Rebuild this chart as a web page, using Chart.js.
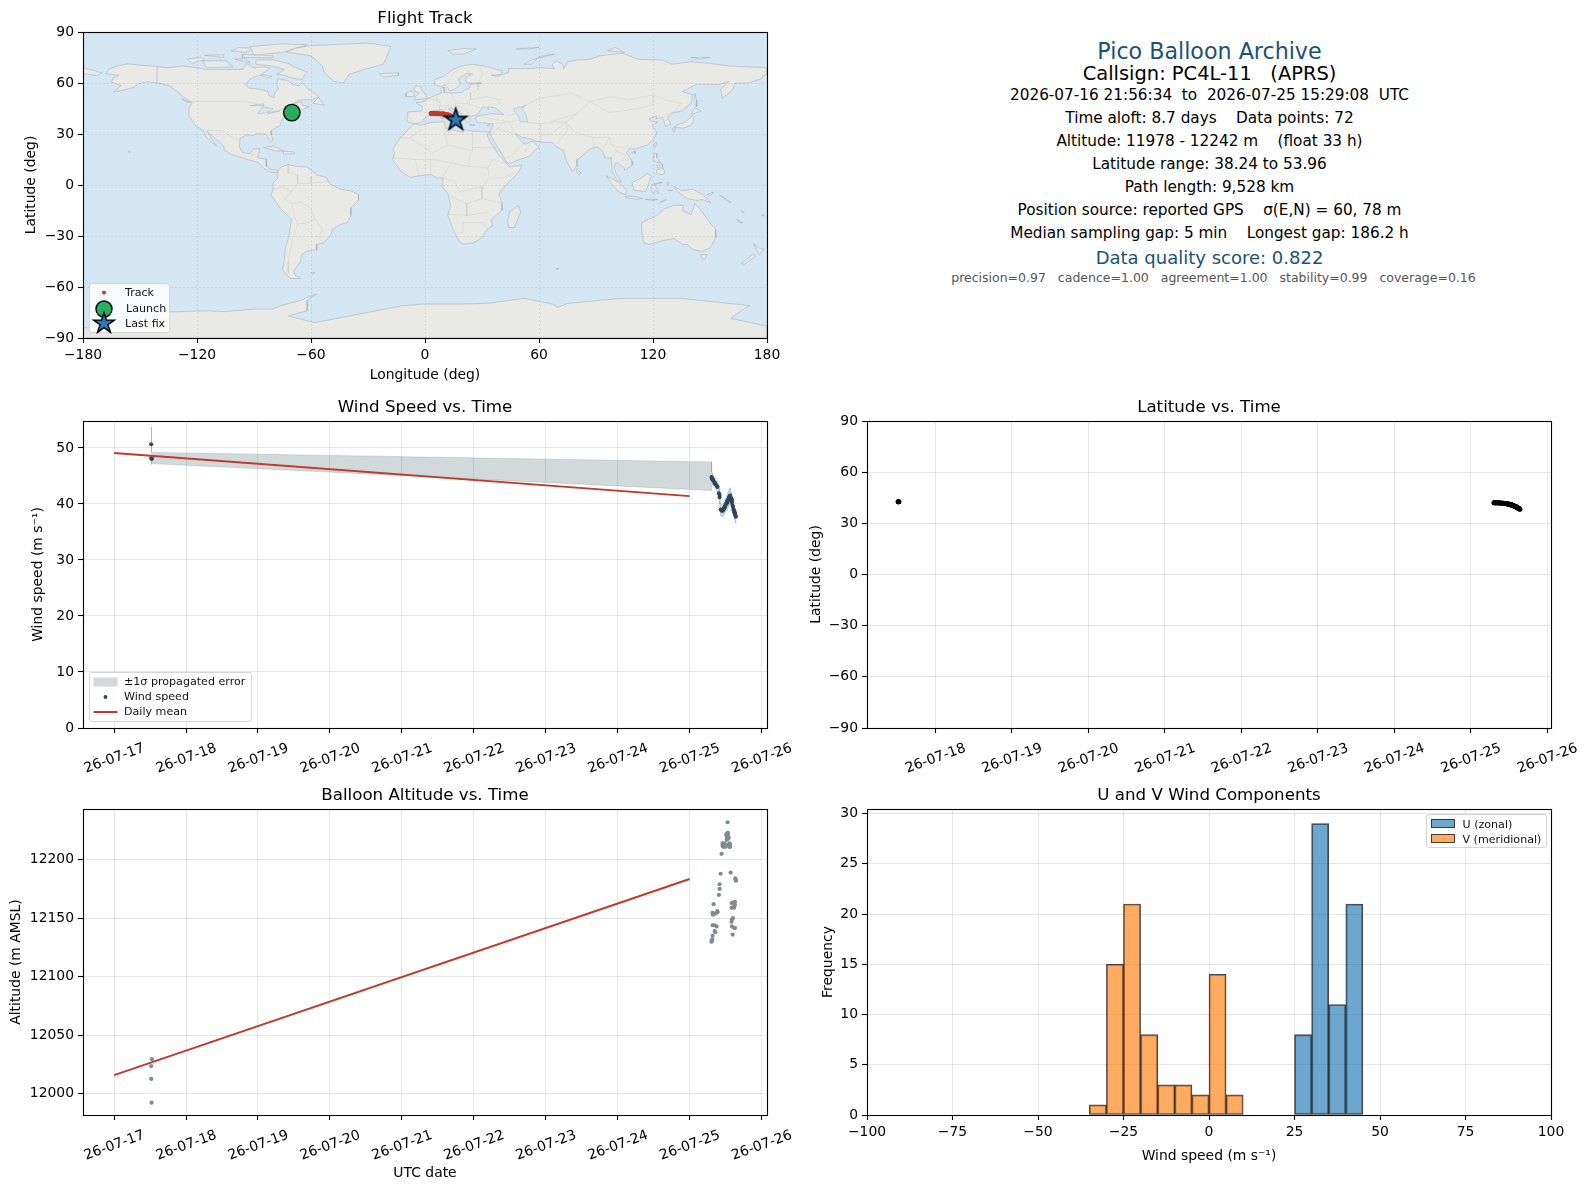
<!DOCTYPE html>
<html><head><meta charset="utf-8">
<script src="https://cdn.jsdelivr.net/npm/chart.js@4/dist/chart.umd.js"></script>
<style>
html,body{margin:0;padding:0;background:#fff;width:1589px;height:1189px;overflow:hidden;font-family:"DejaVu Sans",sans-serif}
canvas{position:absolute}
.t{position:absolute;left:1209.5px;transform:translate(-50%,-50%);white-space:pre;color:#000;font-size:15.28px;line-height:1}
.leg{position:absolute;background:rgba(255,255,255,.82);border:1px solid #d5d5d5;border-radius:3px;box-sizing:border-box}
.leg span{position:absolute;font-size:11.1px;line-height:1;transform:translateY(-50%);white-space:pre;color:#111}
.leg svg{position:absolute;left:0;top:0;overflow:visible}
</style></head><body>
<canvas id="cMap"></canvas><canvas id="cWind"></canvas><canvas id="cLat"></canvas><canvas id="cAlt"></canvas><canvas id="cHist"></canvas>
<div id="overlay"></div>
<script>
/* ---------- flight series (day of July 2026) ---------- */
const times=[17.516,17.516,17.521,17.526,
25.306,25.306,25.315,25.320,25.320,25.320,25.325,25.334,25.348,25.348,
25.357,25.357,25.375,25.385,25.389,25.408,25.417,25.417,25.431,25.445,
25.459,25.459,25.463,25.467,25.470,25.473,25.478,25.482,25.487,25.491,
25.496,25.510,25.514,25.517,25.519,25.519,25.524,25.528,25.528,25.531,
25.533,25.537,25.542,25.546,25.551,25.551,25.556,25.561,25.561,25.565,
25.570,25.584,25.584,25.584,25.588,25.588,25.598,25.602,25.612,25.612,
25.621,25.626,25.626,25.630,25.630,25.635,25.639,25.644];
const altitude=[12012.7,12023.7,11992.4,12029.7,
12130,12130.5,12132,12135,12144,12154.5,12153,12162,12139,12144,
12138,12154,12143,12156,12155,12170,12175,12179,12188,12205,
12212,12214,12213,12211,12212,12213.6,12212,12213,12214,12212,
12211,12221,12222,12217,12218,12219.5,12220,12221,12232,12223,
12222.4,12218,12219,12213,12212,12211,12214,12213,12212,12211,
12189,12147,12159,12163,12149,12143,12136,12150,12142,12163.5,
12159,12161,12162,12164,12141.6,12184,12183,12182];
const windSpeed=[50.65,48.2,48.0,48.1,
44.8,44.7,44.5,44.4,44.4,44.3,44.3,44.1,43.8,43.8,
43.6,43.6,43.3,43.1,43.0,41.9,41.6,41.2,39.0,38.8,
38.8,38.9,38.9,39.0,39.0,39.1,39.2,39.3,39.4,39.5,
39.7,40.0,40.1,40.2,40.3,40.2,40.4,40.5,40.6,40.6,
40.7,40.8,40.9,41.0,41.2,41.1,41.3,41.5,41.4,41.4,
41.2,40.9,40.8,40.6,40.4,40.3,39.7,39.5,38.9,39.0,
38.6,38.4,38.5,38.3,38.2,38.0,37.9,37.7];
const windUpper=[53.7,49.6,49.2,49.2,
47.5,45.7,45.5,45.3,45.3,45.2,45.2,45.0,44.7,44.7,
44.5,44.5,44.2,44.0,43.9,42.9,42.6,42.2,40.1,39.9,
39.9,40.0,40.0,40.1,40.1,40.2,40.3,40.4,40.6,40.7,
40.9,41.2,41.3,41.4,41.5,41.4,41.7,41.8,41.9,41.9,
42.0,42.2,42.3,42.4,42.6,42.5,42.7,42.9,42.8,42.8,
42.5,42.1,42.0,41.8,41.5,41.4,40.8,40.6,40.0,40.1,
39.6,39.4,39.5,39.3,39.2,39.0,38.9,38.8];
const windLower=[47.6,47.0,47.0,47.2,
42.4,43.7,43.5,43.5,43.5,43.4,43.4,43.2,42.9,42.9,
42.7,42.7,42.4,42.2,42.1,40.9,40.5,40.1,37.9,37.7,
37.7,37.8,37.8,37.9,37.9,38.0,38.1,38.2,38.2,38.3,
38.5,38.8,38.9,39.0,39.1,39.0,39.1,39.2,39.3,39.3,
39.4,39.4,39.5,39.6,39.8,39.7,39.9,40.1,40.0,40.0,
39.9,39.7,39.6,39.4,39.3,39.2,38.6,38.4,37.8,37.9,
37.6,37.4,37.5,37.3,37.2,37.0,36.9,36.6];
const latitude=[42.7,42.7,42.7,42.6,
42.1,42.1,42.1,42.1,42.1,42.0,42.0,42.0,42.0,42.0,
42.0,41.9,41.9,41.9,41.9,41.9,41.8,41.8,41.8,41.7,
41.7,41.6,41.6,41.6,41.5,41.5,41.5,41.4,41.4,41.3,
41.3,41.1,41.1,41.0,41.0,41.0,40.9,40.9,40.9,40.8,
40.8,40.7,40.7,40.6,40.5,40.5,40.4,40.3,40.3,40.2,
40.2,39.9,39.9,39.9,39.8,39.8,39.6,39.5,39.2,39.2,
39.0,38.9,38.9,38.7,38.7,38.6,38.4,38.24];
const meanDays=[17,25];
const meanWind=[49.1,41.4];
const meanAlt=[12016,12183.5];
const trackLon=[3.3,4.5,5.8,7,8.2,9.4,10.5,11.5,12.4,13.2,14,14.8,15.4,16];
const trackLat=[42.1,42.1,42,42,41.9,41.8,41.6,41.4,41.1,40.8,40.3,39.8,39,38.24];
const launchPos=[-70.1,42.6];
const lastPos=[16.2,38.24];
/* ---------- histogram ---------- */
const uBins=[27.5,32.5,37.5,42.5];
const uCounts=[8,29,11,21];
const vBins=[-32.5,-27.5,-22.5,-17.5,-12.5,-7.5,-2.5,2.5,7.5];
const vCounts=[1,15,21,8,3,3,2,14,2];
/* ---------- ticks ---------- */
const lonTicks=[-180,-120,-60,0,60,120,180];
const latTicks=[-90,-60,-30,0,30,60,90];
const windTicks=[0,10,20,30,40,50];
const altTicks=[12000,12050,12100,12150,12200];
const histXTicks=[-100,-75,-50,-25,0,25,50,75,100];
const histYTicks=[0,5,10,15,20,25,30];
const dayTicksLeft=[17,18,19,20,21,22,23,24,25,26];
const dayTicksRight=[18,19,20,21,22,23,24,25,26];
/* ---------- coastlines, lon/lat ---------- */
const northAmerica=[[-168,65.5],[-166,68.3],[-162,70],[-156.5,71.3],[-150,70.5],[-141,69.7],[-135,69],[-128,70],[-124,69.5],[-115,68],[-108,68],[-100,68],[-96,68],[-94,71.5],[-90,69],[-85,69.5],[-81.5,69],[-85,66],[-87,64.5],[-92,62.5],[-94.5,59],[-92.5,57],[-88,56.5],[-82.5,55],[-82,52.5],[-79.5,51.3],[-79,54.5],[-77,56.5],[-78,58.8],[-77.5,62.4],[-72,61.5],[-69.5,59],[-66,58.5],[-64.5,60.3],[-61.5,56.5],[-57,53],[-56,51.5],[-60,50.2],[-66,50],[-70,47.5],[-65,49],[-64.5,47],[-61,46],[-64,44.5],[-66,44],[-67,45],[-70,43.5],[-70.5,41.7],[-74,40.5],[-75.5,38],[-76,35],[-78,34],[-81,32],[-81,29.5],[-80,26.5],[-81,25.2],[-82.7,28],[-84,30],[-89,30.2],[-90.5,29],[-94,29.5],[-97.3,27.5],[-97.7,22.5],[-96,19],[-92,18.5],[-90.5,21],[-87,21.5],[-88,16],[-83.5,15],[-83.5,11],[-81,9],[-77.5,8.7],[-78,7.3],[-81,7.5],[-85,10],[-87.5,13],[-92,14.5],[-96,16],[-102,18],[-105.5,20.5],[-106,23],[-109,26],[-112.5,29.5],[-114.7,31.7],[-112.5,27.5],[-109.8,23],[-112,25],[-115,28],[-117,32.5],[-120.5,34.5],[-122.5,37.8],[-124.3,41],[-124,46],[-122.5,48.5],[-125,50],[-128,52.5],[-130.5,55],[-134,58],[-139,59.7],[-146,60.7],[-151,59.5],[-153,57.5],[-158,56],[-164,54.7],[-160,58.5],[-165,60.5],[-164,63.2],[-161,64.5],[-168,65.5]];
const southAmerica=[[-77.5,8.7],[-75.5,10.7],[-72,12],[-68,11],[-62,10.5],[-57,6],[-52,4.5],[-50,0.5],[-44,-2.5],[-39,-3.5],[-35,-5.5],[-35,-9],[-39,-13.5],[-39,-18],[-41,-22],[-45,-23.5],[-48.5,-26],[-50,-30],[-53.5,-34],[-57,-35],[-57,-38],[-62,-39],[-65,-41],[-65.5,-45],[-69,-50.5],[-68.5,-53],[-65.5,-55],[-71,-55],[-75,-50],[-74,-44],[-73.5,-37],[-71.5,-30],[-70.3,-20],[-76,-14],[-81,-6],[-80,-2.5],[-80,1],[-77.5,4],[-77.5,8.7]];
const africa=[[-6,35.7],[-2,35.2],[3,36.8],[10,37.2],[11,33.5],[15,32.3],[20,31],[20,32.8],[25,31.7],[32,31.2],[34.3,31.3],[32.5,29.9],[34,26],[37,21],[38.5,18],[43,12.5],[44.5,10.5],[51,11.8],[49,7],[44,1.5],[41,-2],[39,-5],[40.5,-11],[40.5,-15],[35,-20],[35.5,-24],[32.8,-26],[30,-31],[25.5,-34],[20,-34.8],[18,-33],[15,-27],[12,-18],[13.5,-12],[12,-5],[9,-1],[9.5,4],[6,4.3],[3,6.3],[-4,5.2],[-8,4.5],[-13,8.5],[-17,14.7],[-16,19],[-17,21],[-13,27.7],[-9.8,31.5],[-6,35.7]];
const eurasia=[[-9,37],[-9.5,39],[-9,43],[-2,43.5],[-1.2,46],[-4.7,48.4],[-1.5,48.7],[2,51],[4,52],[7,53.5],[8.7,54],[8.2,57],[10.5,57.5],[10,54.5],[14,54],[19,54.4],[21,56],[23.5,57],[24,59.3],[30,60],[23,60],[21.3,61],[21.5,63],[25,65.3],[22,65.7],[17.5,62],[18.8,59.8],[16.5,57],[14.2,55.5],[12.8,55.7],[11,59],[8,58],[5.2,59],[5,62],[10,64],[14,67.5],[19,70],[25,71],[31,70],[41,67],[40,65],[35,64.5],[38,64],[44,66.2],[44,68.5],[54,68.5],[61,69],[68,68.5],[67,71],[69,73],[72.5,71],[73,68],[75,72.5],[80.5,73.5],[87,74],[92,76],[104,77.5],[112,74],[125,73.5],[130,71],[140,72.5],[150,71.5],[160,70],[170,69.5],[180,69],[180,65],[178,64.5],[177,62.5],[170,60],[163,59.8],[162,56],[156.5,51],[155.5,56.5],[160,61],[155,59.2],[143,59.3],[135.5,55],[141,53],[140,48],[135,43.5],[130.5,42.5],[127.5,39.8],[129.4,36],[126.5,34.5],[126,37],[125,39.7],[121.5,39],[122,40.7],[118,39],[119,37.3],[122.5,37],[119.5,35],[122,31],[121,28],[117,23.6],[110.5,21.2],[108,21.5],[106,19],[109,14],[109,11.5],[105,8.7],[105,10],[102.5,12],[100.7,13.5],[99.5,11],[100.5,7],[103.5,1.5],[101,3],[98.5,8],[98,16],[94.5,16],[94,19],[91,22.5],[87,21.3],[82,16.5],[80,15],[80,11],[77.5,8],[74.5,14],[72.8,20.5],[69,22.5],[67,25],[61.5,25.2],[57,26],[56.5,27],[51,28],[48,30],[48.5,28.5],[51.5,25],[53,24],[56.3,25.8],[59.8,22.5],[55,17],[45,13],[43.2,13],[39,21],[35,28],[34.7,29.5],[34.3,31.3],[36,36],[31,36.5],[27.5,36.7],[26.5,39.5],[29,41],[35,42],[41.5,41.5],[38,44.5],[37,45.3],[33,46],[33.5,44.5],[30.7,46.5],[28,42],[26,40.7],[23,40.5],[24,38],[22.5,36.5],[19.5,41],[19.5,42],[13.5,45.5],[12.3,44.5],[16,41.7],[18.5,40],[16.5,39.5],[16,38],[14,40.7],[10.5,43],[8.8,44.4],[3.5,43.3],[3,41.8],[0,39.5],[-2,36.7],[-5.5,36],[-9,37]];
const chukotkaWest=[[-180,69],[-175,67.5],[-170,66],[-173,64.3],[-178,65.5],[-180,65],[-180,69]];
const greenland=[[-73,78.2],[-68,80.5],[-60,82],[-45,82.7],[-30,83.5],[-18,81.5],[-20,76],[-22,71],[-32,68],[-40,65],[-43,60],[-48,61],[-53,66],[-54,70],[-60,76],[-73,78.2]];
const australia=[[114,-22],[122,-18],[126,-14],[131,-12],[136,-12],[135.5,-15],[140,-17.5],[142,-11],[145.5,-15],[149,-21],[153,-26],[153,-31],[150,-37],[146,-39],[141,-38],[138,-35],[135.5,-34.8],[131,-31.5],[124,-33],[118,-35],[115,-34],[114,-26],[114,-22]];
const antarctica=[[-180,-84],[-165,-84],[-150,-79],[-148,-75],[-130,-74.5],[-115,-74],[-105,-74.5],[-90,-73],[-80,-73],[-76,-71],[-66,-68],[-57,-64],[-62,-68],[-62,-74],[-72,-77],[-58,-81],[-35,-76],[-12,-71],[0,-70],[20,-70],[34,-69.5],[52,-66.7],[67,-70],[70,-72],[75,-69.7],[103,-66.7],[135,-66.7],[171,-71],[165,-75],[161,-78.5],[180,-83],[180,-90],[-180,-90],[-180,-84]];
const islands=[
 [[-80,73.7],[-72,71.5],[-68,69],[-62,66.5],[-65,62],[-70,63],[-74,64.5],[-78,65],[-74,68],[-80,70],[-89,71],[-89,73.5],[-80,73.7]],
 [[-117,73],[-105,73],[-101,69.5],[-115,69],[-117,73]],
 [[-125,74],[-118,75],[-116,73.5],[-123,71.5],[-125,74]],
 [[-90,76.5],[-75,78],[-62,82.5],[-75,83],[-92,81.5],[-90,76.5]],
 [[-96,75],[-80,74.8],[-80,76],[-96,76.8],[-96,75]],
 [[-116,76.3],[-106,75],[-106,76.6],[-116,76.3]],
 [[-102,79],[-94,78],[-90,80.5],[-98,80.8],[-102,79]],
 [[-100,74],[-92,72],[-95,74.5],[-100,74]],
 [[-87,65],[-80.5,64],[-83,62.8],[-87,65]],
 [[-59,48],[-56,51.5],[-53,47],[-59,48]],
 [[-128,50.7],[-123.5,48.5],[-125.5,48.8],[-128,50.7]],
 [[-85,22],[-80,23],[-74.5,20],[-78,20],[-85,22]],
 [[-74.5,19.8],[-69,19.5],[-68.5,18.3],[-74.5,18.2],[-74.5,19.8]],
 [[-156,20],[-155,19.5],[-155.7,19],[-156,20]],
 [[-60,-51.3],[-58,-51.5],[-59,-52.3],[-60,-51.3]],
 [[-24,65.5],[-14,66],[-14,64.5],[-22,63.5],[-24,65.5]],
 [[-5.5,50],[1.5,51],[0,53.5],[-2,56],[-2,57.6],[-5,58.6],[-6,56],[-3,54],[-5,52],[-5.5,50]],
 [[-10,52],[-6,52],[-5.7,54.5],[-8,55.3],[-10,54],[-10,52]],
 [[12,79],[20,80.2],[27,80],[20,77],[15,77],[12,79]],
 [[52,71],[56,73.5],[68,77],[60,75.5],[56,71],[52,71]],
 [[96,79],[105,78],[100,81],[96,79]],
 [[48,80],[60,81],[55,80],[48,80]],
 [[140,75],[150,75],[145,74],[140,75]],
 [[142,54],[143,50],[143,46],[142,47.5],[142,54]],
 [[140,41.5],[144,43],[145.3,43.5],[142,45.5],[140,41.5]],
 [[131,34],[136,33.5],[140,35],[141.5,38],[141,41],[140,40],[137,37],[133,35.5],[131,34]],
 [[130,33],[132,33],[131,31],[130,33]],
 [[120.2,23],[121,25],[122,25],[121,22],[120.2,23]],
 [[108.7,19],[110.5,20],[110.5,18.7],[108.7,19]],
 [[120.5,18.5],[122,18.5],[122,16],[124,13],[121,13.8],[120,16],[120.5,18.5]],
 [[122,9],[125.5,9.7],[126.3,7],[124,6],[122,7],[122,9]],
 [[122,11.5],[125,12],[125,10.5],[122.5,10],[122,11.5]],
 [[117,6.9],[119,5],[117.8,1],[116,-4],[110,-3],[109,1.5],[112,3],[115,5],[117,6.9]],
 [[95.3,5.5],[98,4],[103,0.5],[106,-3],[105.5,-5.8],[102,-4],[98,1],[95.3,5.5]],
 [[105.5,-6.5],[110,-6.8],[114.5,-7.8],[112,-8.5],[106,-7.5],[105.5,-6.5]],
 [[119.5,0.5],[125,1.5],[120.5,0.2],[122,-2],[123,-5],[121,-3],[120.5,-5.5],[119,-3],[119.5,0.5]],
 [[124,-10],[127,-8.5],[123.5,-10.5],[124,-10]],
 [[116,-8.5],[119,-8.4],[122.5,-8.5],[120,-9],[116,-8.5]],
 [[128,-3],[130.5,-3],[128.5,-3.6],[128,-3]],
 [[127.5,1.8],[128.5,1],[127.8,0],[127.5,1.8]],
 [[131,-0.8],[135,-3.3],[141,-2.6],[146,-5.5],[150.5,-10.5],[146,-8.5],[143,-9],[138,-8],[133,-4],[131,-0.8]],
 [[148.5,-5.5],[152,-4.3],[150,-6.3],[148.5,-5.5]],
 [[155,-6],[161,-10],[160,-10.2],[155,-6]],
 [[164,-20.3],[167,-22.3],[165,-21.7],[164,-20.3]],
 [[166.7,-15],[168,-16.5],[167,-16],[166.7,-15]],
 [[177.2,-17.5],[178.7,-17.8],[178,-18.3],[177.2,-17.5]],
 [[145,-41],[148.3,-41],[147.5,-43.5],[146,-43.5],[145,-41]],
 [[172.7,-34.5],[175.5,-37],[178.5,-37.7],[176,-41],[174.8,-39],[174,-36.5],[172.7,-34.5]],
 [[172.5,-40.7],[174,-41.8],[171,-44.5],[168,-46.7],[166.5,-45.8],[170,-43],[172.5,-40.7]],
 [[49.3,-12],[50.4,-16],[47,-25],[44,-25],[43.5,-21],[44.5,-16],[49.3,-12]],
 [[80,9.7],[82,7],[80.5,6],[79.8,8],[80,9.7]],
 [[69,-49],[70.5,-49.2],[69.5,-49.7],[69,-49]],
 [[8.3,41],[9.7,41],[9.5,39],[8.5,39],[8.3,41]],
 [[8.7,43],[9.5,43],[9.3,41.5],[8.7,42],[8.7,43]],
 [[12.5,38],[15.6,38.2],[15,36.7],[12.5,38]],
 [[23.5,35.5],[26.3,35.2],[24,35],[23.5,35.5]],
 [[32.5,35],[34.5,35.6],[33.5,34.7],[32.5,35]]
];
const waterBodies=[
 [[47,45],[53,46.8],[51,44.5],[53,42],[54,37],[50,37.3],[49,41],[47,43],[47,45]],
 [[-92,46.7],[-85,47.8],[-84.7,46.5],[-88,46.7],[-92,46.7]],
 [[-88,42],[-85.5,45.8],[-80,45],[-82,43],[-86,42],[-88,42]],
 [[-83,41.7],[-79,42.8],[-76.3,43.6],[-79.7,43.5],[-83,41.7]]
];
const borderLines=[
 [[-123,49],[-95,49],[-89,48],[-83,46],[-82.5,42.5],[-79,43],[-75,45],[-71,45],[-69,47],[-67,45]],[[-141,69.7],[-141,60],[-135,59]],[[-117,32.5],[-106.5,31.8],[-103,29],[-97.3,26]],[[-92,14.5],[-91,18],[-89,18],[-88.5,16]],
 [[-72,12],[-72,7],[-67,6],[-67,1],[-70,-4],[-74,-8],[-70,-11],[-69,-18]],[[-60,5],[-60,1],[-52,2],[-51,4]],[[-67,1],[-60,1]],[[-70,-11],[-65,-10],[-60,-14],[-58,-20],[-55,-24],[-54,-27],[-57,-30],[-53.5,-33.5]],[[-69,-18],[-67,-23],[-70,-33],[-72,-45],[-72,-52]],[[-67,-23],[-62,-22],[-58,-20]],[[-80,-3],[-75,-1],[-70,-4]],
 [[-13,27.7],[-8,27.7],[-1,33]],[[-8,27.7],[4,19],[12,23.5],[25,20],[25,31.7]],[[25,22],[37,22]],[[12,23.5],[10,33]],[[-17,16],[-5,15],[4,15],[14,13],[23,11],[24,20]],[[14,13],[9,4.5]],[[23,11],[33,10],[36,15],[43,12]],[[33,10],[34,4],[41,4],[48,8]],[[34,4],[30,-1],[30,-8],[40,-10.5]],[[30,-8],[22,-11],[12,-6]],[[22,-11],[22,-18],[12,-17]],[[22,-18],[33,-16]],[[20,-28],[20,-22],[30,-22],[33,-26]],[[17,-28],[20,-28]],[[9,4.5],[16,2],[18,-4],[30,-1]],[[-5,15],[-3,5]],[[3,6],[3,15]],
 [[-2,43.3],[3,42.5]],[[-9,42],[-7,37]],[[2,51],[8,49],[7.5,44]],[[7,53.5],[6,50],[8,48]],[[14,54],[15,51],[17,48.5],[13,46.5],[8,46.5]],[[24,54],[24,50],[22,48],[29,45.3]],[[22,48],[17,48]],[[13.5,45.5],[19,46],[22,44],[23,41]],[[28,60],[28,56],[24,54]],[[28,60],[30,65],[29,70]],[[24,66],[20,69],[15,66],[12,60]],[[40,50],[32,52],[24,50]],[[40,50],[38,47]],[[48,42],[45,41],[43,41.5]],[[26,41],[44,37],[49,38]],[[36,36],[42,37],[38,33],[34.5,29.5]],[[38,33],[48,30]],[[44,37],[46,33],[48,30]],[[52,24],[45,17],[43,16]],[[56,25],[52,19]],[[61,25],[61,36],[66,37],[74,37],[71,34],[66,30],[61,29.5]],[[54,37],[61,36]],[[50,45],[60,51],[77,54],[87,49],[80,42],[74,40],[66,37]],[[87,49],[98,52],[107,50],[120,53],[127,50],[135,48],[131,43]],[[87,49],[97,42.5],[112,45],[120,47],[120,53]],[[80,42],[74,37],[79,31],[88,28],[97,28],[98,24],[102,22],[106,22.5],[108,21.5]],[[74,37],[75,32],[70,25],[71,24]],[[88,28],[89,22]],[[97,28],[94,22],[92.5,21]],[[98,24],[101,20],[98,16]],[[101,20],[105,18],[107,15],[105,10]],[[102,14],[107,15]],[[124.5,40],[128,42],[130.5,42.5]],[[126,38],[128.5,38.5]]
];
/* ---------- drawing ---------- */
const FONT='"DejaVu Sans"';
Chart.defaults.font.family=FONT;
Chart.defaults.color='#000';
Chart.defaults.animation=false;
const frame={id:'frame',afterDraw(c){const a=c.chartArea,x=c.ctx;x.save();x.strokeStyle='#000';x.lineWidth=1.1;x.strokeRect(a.left+.5,a.top+.5,a.width,a.height);x.restore();}};
const ocean={id:'ocean',beforeDatasetsDraw(c,_,o){if(!o.color)return;const a=c.chartArea,x=c.ctx;x.save();x.fillStyle=o.color;x.fillRect(a.left,a.top,a.width,a.height);x.restore();}};
const minus=v=>String(v).replace('-','\u2212');
const dayLabel=v=>'26-07-'+v;
function xy(xs,ys){return xs.map((x,i)=>({x,y:ys[i]}));}
function pts(a){return a.map(p=>({x:p[0],y:p[1]}));}
function axis(o){
 const rot=o.rot||0;
 const s={type:'linear',min:o.min,max:o.max,position:o.pos,
  afterBuildTicks:a=>{a.ticks=o.ticks.map(v=>({value:v}));},
  afterFit:a=>{if(o.pos==='left'){a.width=o.size;a.paddingTop=0;a.paddingBottom=0;}else{a.height=o.size;a.paddingLeft=0;a.paddingRight=0;}},
  grid:Object.assign({color:'rgba(128,128,128,.2)',lineWidth:1,tickColor:'#000',tickLength:5,tickWidth:1.1},o.grid||{}),
  border:Object.assign({display:false},o.border||{}),
  ticks:{autoSkip:false,font:{size:13.9,family:FONT},color:'#000',padding:o.tpad==null?4:o.tpad,includeBounds:false,maxRotation:rot,minRotation:rot,labelOffset:o.lo||0,callback:o.fmt||minus},
 };
 if(o.title)s.title={display:true,text:o.title,font:{size:13.9,family:FONT},color:'#000',padding:{top:o.tp,bottom:o.tp}};
 return s;
}
function place(id,l,t,w,h){const c=document.getElementById(id);c.width=w;c.height=h;c.style.left=l+'px';c.style.top=t+'px';c.style.width=w+'px';c.style.height=h+'px';return c;}
function make(id,l,top,areaLeft,areaW,areaH,xSize,title,datasets,scales,extra){
 const w=areaLeft+areaW+34,h=26+areaH+xSize;
 const c=place(id,l,top-26,w,h);
 return new Chart(c,{type:'scatter',data:{datasets},plugins:[frame,ocean],options:{responsive:false,devicePixelRatio:1,animation:false,
  layout:{padding:{left:0,right:34,top:0,bottom:0}},
  plugins:{legend:{display:false},tooltip:{enabled:false},ocean:extra||{},
   title:{display:true,fullSize:false,text:title,font:{size:16.67,family:FONT,weight:'normal'},color:'#000',padding:{top:2.5,bottom:3.5}}},
  scales}});
}
/* star marker */
function starCanvas(R,fill){
 const s=Math.ceil(R*2+6),c=document.createElement('canvas');c.width=c.height=s;const x=c.getContext('2d');x.translate(s/2,s/2);x.beginPath();
 for(let i=0;i<10;i++){const r=i%2?R*.382:R,a=-Math.PI/2+i*Math.PI/5;x[i?'lineTo':'moveTo'](r*Math.cos(a),r*Math.sin(a));}
 x.closePath();x.fillStyle=fill;x.fill();x.lineWidth=1.5;x.strokeStyle='#000';x.lineJoin='miter';x.stroke();return c;
}
/* ---- map ---- */
const LAND='#e8e8e4',COAST='rgba(150,160,165,.45)';
const landList=[northAmerica,southAmerica,africa,eurasia,chukotkaWest,greenland,australia,antarctica].concat(islands);
const mapSets=[];
landList.forEach(s=>mapSets.push({type:'line',data:pts(s),fill:'shape',backgroundColor:LAND,borderColor:COAST,borderWidth:.9,pointRadius:0,tension:0,order:100}));
waterBodies.forEach(s=>mapSets.push({type:'line',data:pts(s),fill:'shape',backgroundColor:'#d4e6f1',borderColor:COAST,borderWidth:.7,pointRadius:0,tension:0,order:60}));
borderLines.forEach(s=>mapSets.push({type:'line',data:pts(s),fill:false,borderColor:'rgba(150,150,150,.18)',borderWidth:.8,pointRadius:0,tension:0,order:50}));
mapSets.push({label:'Track',data:xy(trackLon,trackLat),backgroundColor:'#c0392b',borderWidth:0,pointRadius:2.6,order:3});
mapSets.push({label:'Launch',data:[{x:launchPos[0],y:launchPos[1]}],backgroundColor:'#27ae60',borderColor:'#000',borderWidth:1.4,pointRadius:8.2,order:2});
mapSets.push({label:'Last fix',data:[{x:lastPos[0],y:lastPos[1]}],pointStyle:starCanvas(11.5,'#2878b5'),pointRadius:12,order:1});
const dashGrid={color:'rgba(120,120,120,.2)',lineWidth:.8,z:1};
make('cMap',0,32,83,684,306,46,'Flight Track',mapSets,{
 x:axis({min:-180,max:180,pos:'bottom',ticks:lonTicks,size:46,title:'Longitude (deg)',tp:0,grid:dashGrid,border:{dash:[2,2]}}),
 y:axis({min:-90,max:90,pos:'left',ticks:latTicks,size:83,title:'Latitude (deg)',tp:23,grid:dashGrid,border:{dash:[2,2]}})
},{color:'#d4e6f1'});
/* ---- wind ---- */
const BAND='rgba(60,90,95,.23)';
make('cWind',0,421,83,684,307,60,'Wind Speed vs. Time',[
 {type:'line',label:'Daily mean',data:xy(meanDays,meanWind),borderColor:'#c0392b',borderWidth:1.9,pointRadius:0,tension:0,fill:false,order:1},
 {label:'Wind speed',data:xy(times,windSpeed),backgroundColor:'#2c4560',borderWidth:0,pointRadius:2.0,order:2},
 {type:'line',label:'\u00b11\u03c3 propagated error',data:xy(times,windUpper),borderColor:BAND,borderWidth:.8,backgroundColor:BAND,pointRadius:0,tension:0,fill:'+1',order:3},
 {type:'line',data:xy(times,windLower),borderColor:BAND,borderWidth:.8,pointRadius:0,tension:0,fill:false,order:4}
],{
 x:axis({min:16.568,max:26.076,pos:'bottom',ticks:dayTicksLeft,size:60,rot:20,lo:30,tpad:7,fmt:dayLabel}),
 y:axis({min:0,max:54.8,pos:'left',ticks:windTicks,size:83,title:'Wind speed (m s\u207b\u00b9)',tp:30})
});
/* ---- latitude ---- */
make('cLat',799,421,68,684,307,60,'Latitude vs. Time',[
 {label:'Latitude',data:xy(times,latitude),backgroundColor:'#000',borderWidth:0,pointRadius:2.5}
],{
 x:axis({min:17.108,max:26.05,pos:'bottom',ticks:dayTicksRight,size:60,rot:20,lo:30,tpad:7,fmt:dayLabel}),
 y:axis({min:-90,max:90,pos:'left',ticks:latTicks,size:68,title:'Latitude (deg)',tp:9})
});
/* ---- altitude ---- */
make('cAlt',0,809,83,684,306,67,'Balloon Altitude vs. Time',[
 {type:'line',label:'Daily mean',data:xy(meanDays,meanAlt),borderColor:'#c0392b',borderWidth:1.9,pointRadius:0,tension:0,fill:false,order:1},
 {label:'Altitude',data:xy(times,altitude),backgroundColor:'#7f8c8d',borderWidth:0,pointRadius:2.1,order:2}
],{
 x:axis({min:16.568,max:26.076,pos:'bottom',ticks:dayTicksLeft,size:67,rot:20,lo:30,tpad:7,fmt:dayLabel,title:'UTC date',tp:0}),
 y:axis({min:11981.9,max:12243.3,pos:'left',ticks:altTicks,size:83,title:'Altitude (m AMSL)',tp:8})
});
/* ---- histogram ---- */
const hx=axis({min:-100,max:100,pos:'bottom',ticks:histXTicks,size:67,title:'Wind speed (m s\u207b\u00b9)',tp:17});
hx.offset=false;hx.grid.offset=false;
make('cHist',799,809,68,684,306,67,'U and V Wind Components',[
 {type:'bar',label:'U (zonal)',data:xy(uBins,uCounts),backgroundColor:'rgba(31,119,180,.65)',borderColor:'rgba(0,0,0,.72)',borderWidth:1.2,borderSkipped:false,barPercentage:1,categoryPercentage:1,grouped:false},
 {type:'bar',label:'V (meridional)',data:xy(vBins,vCounts),backgroundColor:'rgba(255,127,14,.65)',borderColor:'rgba(0,0,0,.72)',borderWidth:1.2,borderSkipped:false,barPercentage:1,categoryPercentage:1,grouped:false}
],{
 x:hx,
 y:axis({min:0,max:30.45,pos:'left',ticks:histYTicks,size:68,title:'Frequency',tp:21})
});
/* ---------- header text ---------- */
const infoLines=[
 ['Pico Balloon Archive',50.7,22.2,'#1a5276',0],
 ['Callsign: PC4L-11   (APRS)',74,19.44,'#000',0],
 ['2026-07-16 21:56:34  to  2026-07-25 15:29:08  UTC',96.3,15.28,'#000',0],
 ['Time aloft: 8.7 days    Data points: 72',118.6,15.28,'#000',0],
 ['Altitude: 11978 - 12242 m    (float 33 h)',141.5,15.28,'#000',0],
 ['Latitude range: 38.24 to 53.96',164.5,15.28,'#000',0],
 ['Path length: 9,528 km',187.6,15.28,'#000',0],
 ['Position source: reported GPS    \u03c3(E,N) = 60, 78 m',210.6,15.28,'#000',0],
 ['Median sampling gap: 5 min    Longest gap: 186.2 h',233.6,15.28,'#000',0],
 ['Data quality score: 0.822',257.6,18,'#1a5276',0],
 ['precision=0.97   cadence=1.00   agreement=1.00   stability=0.99   coverage=0.16',278,12.5,'#555',4]
];
const ov=document.getElementById('overlay');
infoLines.forEach(l=>{const d=document.createElement('div');d.className='t';d.textContent=l[0];d.style.top=l[1]+'px';d.style.fontSize=l[2]+'px';d.style.color=l[3];d.style.marginLeft=l[4]+'px';ov.appendChild(d);});
/* ---------- legends ---------- */
function legend(x,y,w,h,rows,svg){
 const d=document.createElement('div');d.className='leg';d.style.cssText=`left:${x}px;top:${y}px;width:${w}px;height:${h}px`;
 d.innerHTML=`<svg width="${w}" height="${h}">${svg}</svg>`;
 rows.forEach(r=>{const s=document.createElement('span');s.textContent=r[0];s.style.left=r[1]+'px';s.style.top=r[2]+'px';d.appendChild(s);});
 ov.appendChild(d);
}
function starPath(cx,cy,R){let p='';for(let i=0;i<10;i++){const r=i%2?R*.382:R,a=-Math.PI/2+i*Math.PI/5;p+=(i?'L':'M')+(cx+r*Math.cos(a)).toFixed(2)+' '+(cy+r*Math.sin(a)).toFixed(2);}return p+'Z';}
legend(89,283,81,50,[['Track',35,9],['Launch',36,25],['Last fix',35,40]],
 `<circle cx="14" cy="8.5" r="1.9" fill="#c0392b"/><circle cx="14" cy="25" r="8" fill="#27ae60" stroke="#000" stroke-width="1.4"/><path d="${starPath(14,39.5,11)}" fill="#2878b5" stroke="#000" stroke-width="1.4"/>`);
legend(89,671.5,163,50,[['\u00b11\u03c3 propagated error',34,9.5],['Wind speed',34,24.5],['Daily mean',34,39.5]],
 `<rect x="3.5" y="4.5" width="24" height="9" fill="${BAND}"/><circle cx="15.5" cy="24" r="1.9" fill="#2c4560"/><line x1="3.5" x2="27.5" y1="39" y2="39" stroke="#c0392b" stroke-width="2"/>`);
legend(1426,814,121,34,[['U (zonal)',35.5,10],['V (meridional)',35.5,24.5]],
 `<rect x="4.5" y="4.5" width="23" height="8" fill="rgba(31,119,180,.65)" stroke="rgba(0,0,0,.72)"/><rect x="4.5" y="19.5" width="23" height="8" fill="rgba(255,127,14,.65)" stroke="rgba(0,0,0,.72)"/>`);
</script>
</body></html>
